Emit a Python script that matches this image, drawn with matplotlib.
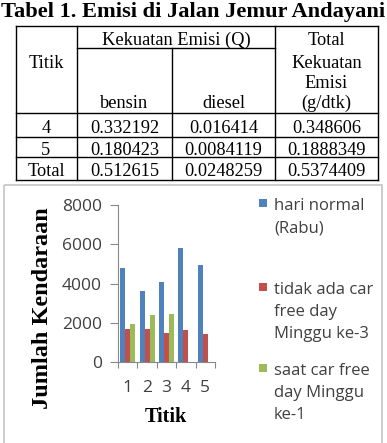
import matplotlib
matplotlib.use("Agg")
import matplotlib.pyplot as plt
from matplotlib.patches import Rectangle

# ---------------- data ----------------
title = "Tabel 1. Emisi di Jalan Jemur Andayani"
table_rows = ["4", "5", "Total"]
bensin = ["0.332192", "0.180423", "0.512615"]
diesel = ["0.016414", "0.0084119", "0.0248259"]
total_emisi = ["0.348606", "0.1888349", "0.5374409"]

categories = ["1", "2", "3", "4", "5"]
hari_normal = [4800, 3600, 4100, 5800, 4950]
tidak_cfd = [1700, 1700, 1500, 1650, 1450]
saat_cfd = [1950, 2400, 2450, 0, 0]
series = [hari_normal, tidak_cfd, saat_cfd]
series_labels = ["hari normal\n(Rabu)",
                 "tidak ada car\nfree day\nMinggu ke-3",
                 "saat car free\nday Minggu\nke-1"]
colors = ["#4F81BD", "#C0504D", "#9BBB59"]
yticks = [0, 2000, 4000, 6000, 8000]

# ---------------- figure ----------------
W, H = 387, 443
fig = plt.figure(figsize=(W / 100, H / 100), dpi=100)
fig.patch.set_facecolor("white")

ov = fig.add_axes([0, 0, 1, 1])
ov.set_xlim(0, W)
ov.set_ylim(H, 0)
ov.axis("off")

serif = "Liberation Serif"
sans = "Open Sans"

# title
ov.text(193.5, 17, title, ha="center", va="baseline", fontfamily=serif,
        fontweight="bold", fontsize=16.1, color="black")

# table lines
L, C1, C2, C3, R = 16, 77, 172, 275, 378
T, Y1, Y2, Y3, Y4, B = 26, 48, 113, 137, 157, 180
lw = 1.0
kw = dict(color="black", lw=lw, solid_capstyle="projecting")
ov.plot([L, R], [T, T], **kw)
ov.plot([C1, C3], [Y1, Y1], **kw)
for y in (Y2, Y3, Y4, B):
    ov.plot([L, R], [y, y], **kw)
for x in (L, C1, C3, R):
    ov.plot([x, x], [T, B], **kw)
ov.plot([C2, C2], [Y1, B], **kw)

tkw = dict(ha="center", va="baseline", fontfamily=serif, fontsize=13.2, color="black")
cx = [46, 124.5, 223.5, 326.5]
ov.text((C1 + C3) / 2, 45, "Kekuatan Emisi (Q)", **tkw)
ov.text(cx[3], 45, "Total", **tkw)
ov.text(cx[3], 68, "Kekuatan", **tkw)
ov.text(cx[3], 88, "Emisi", **tkw)
ov.text(cx[3], 108, "(g/dtk)", **tkw)
ov.text(cx[0], 68, "Titik", **tkw)
ov.text(cx[1], 108, "bensin", **tkw)
ov.text(cx[2], 108, "diesel", **tkw)
row_base = [133, 155, 176.5]
for i, yb in enumerate(row_base):
    ov.text(cx[0], yb, table_rows[i], **tkw)
    ov.text(cx[1], yb, bensin[i], **tkw)
    ov.text(cx[2], yb, diesel[i], **tkw)
    ov.text(cx[3], yb, total_emisi[i], **tkw)

# chart border
ov.add_patch(Rectangle((3.5, 184.5), 378, 262, fill=False, ec="#c4c4c4", lw=1.2))

# legend (manual layout)
leg_base = [210, 294, 375]
line_h = 22
for i, lab in enumerate(series_labels):
    yb = leg_base[i]
    ov.add_patch(Rectangle((259, yb - 11.5), 8, 8, color=colors[i], lw=0))
    for j, line in enumerate(lab.split("\n")):
        ov.text(274, yb + j * line_h, line, ha="left", va="baseline",
                fontfamily=sans, fontsize=12, color="#404040")

# ---------------- bar chart ----------------
ax_l, ax_r, ax_t, ax_b = 118, 215, 205, 362
ax = fig.add_axes([ax_l / W, (H - ax_b) / H, (ax_r - ax_l) / W, (ax_b - ax_t) / H])
ax.patch.set_alpha(0)
x = list(range(len(categories)))
bw = 0.26
offsets = [-bw, 0, bw]
for vals, off, col in zip(series, offsets, colors):
    ax.bar([xi + off for xi in x], vals, width=bw, color=col, lw=0)

ax.set_xlim(-0.5, len(categories) - 0.5)
ax.set_ylim(0, 8000)
ax.set_yticks(yticks)
ax.set_yticklabels([str(v) for v in yticks])
ax.set_xticks(x)
ax.set_xticklabels(categories)
ax.set_xticks([i - 0.5 for i in range(len(categories) + 1)], minor=True)
ax.tick_params(axis="x", which="major", length=0, pad=13)
ax.tick_params(axis="x", which="minor", length=4, width=0.8, color="#888888", direction="out")
ax.tick_params(axis="y", length=6, width=0.8, color="#888888", pad=5.5)
for lab in ax.get_xticklabels() + ax.get_yticklabels():
    lab.set_fontfamily(sans)
    lab.set_fontsize(12.5)
    lab.set_color("#404040")
for s in ("top", "right"):
    ax.spines[s].set_visible(False)
for s in ("left", "bottom"):
    ax.spines[s].set_color("#888888")
    ax.spines[s].set_linewidth(0.8)

ax.set_xlabel("Titik", fontfamily=serif, fontweight="bold", fontsize=14.5, va="baseline")
ax.xaxis.set_label_coords((166 - ax_l) / (ax_r - ax_l), (ax_b - 421.5) / (ax_b - ax_t))
ax.set_ylabel("Jumlah Kendaraan", fontfamily=serif, fontweight="bold", fontsize=17.5,
              va="baseline", ha="center")
ax.yaxis.set_label_coords((48 - ax_l) / (ax_r - ax_l), (ax_b - 308.5) / (ax_b - ax_t))

fig.savefig("out.png", dpi=100, facecolor="white")
